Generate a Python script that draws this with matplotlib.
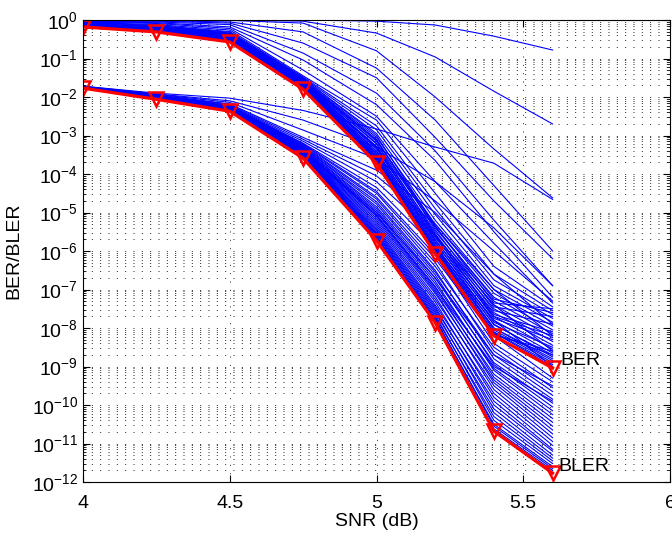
import numpy as np
import matplotlib
matplotlib.use("Agg")
import matplotlib.pyplot as plt
from matplotlib.ticker import LogLocator, NullFormatter, FixedLocator

plt.rcParams['font.family'] = ['Liberation Sans', 'DejaVu Sans']
plt.rcParams['mathtext.fontset'] = 'custom'
plt.rcParams['mathtext.rm'] = 'Liberation Sans'
plt.rcParams['mathtext.it'] = 'Liberation Sans:italic'
plt.rcParams['mathtext.bf'] = 'Liberation Sans:bold'
plt.rcParams['lines.scale_dashes'] = False

# SNR points (dB)
snr = [4, 4.25, 4.5, 4.75, 5, 5.2, 5.4, 5.6]

# red curves, log10 values
ber_red = [-0.18, -0.31, -0.57, -1.80, -3.72, -6.07, -8.20, -9.04]
bler_red = [-1.77, -2.06, -2.37, -3.59, -5.73, -7.86, -10.68, -11.77]

# blue curves of the upper group (log10)
upper_blue = [
    [0.00, 0.00, 0.00, 0.00, -0.03, -0.13, -0.42, -0.78],
    [0.00, 0.00, 0.00, -0.03, -0.34, -0.96, -1.85, -2.70],
    [0.00, 0.00, -0.01, -0.08, -0.80, -2.00, -3.35, -4.62],
    [-0.01, -0.02, -0.05, -0.31, -1.25, -2.60, -4.30, -6.00],
    [-0.02, -0.03, -0.08, -0.60, -1.50, -3.05, -4.70, -6.20],
    [-0.03, -0.05, -0.12, -0.86, -1.90, -3.40, -5.20, -6.90],
    [-0.04, -0.07, -0.18, -1.04, -2.20, -3.65, -5.50, -7.20],
    [-0.05, -0.09, -0.22, -1.30, -2.50, -4.20, -5.80, -7.35],
    [-0.06, -0.12, -0.26, -1.45, -2.60, -4.50, -6.40, -7.45],
    [-0.07, -0.14, -0.30, -1.48, -2.75, -4.75, -6.60, -7.55],
    [-0.08, -0.15, -0.32, -1.50, -2.85, -4.90, -6.75, -7.65],
    [-0.08, -0.16, -0.34, -1.53, -2.95, -5.05, -6.90, -7.75],
    [-0.09, -0.17, -0.36, -1.55, -3.05, -5.20, -7.00, -7.85],
    [-0.10, -0.18, -0.38, -1.58, -3.15, -5.30, -7.10, -7.95],
    [-0.10, -0.19, -0.40, -1.60, -3.20, -5.40, -7.20, -8.05],
    [-0.11, -0.20, -0.42, -1.62, -3.28, -5.50, -7.30, -8.15],
    [-0.12, -0.21, -0.43, -1.64, -3.35, -5.58, -7.40, -8.25],
    [-0.12, -0.22, -0.45, -1.66, -3.42, -5.65, -7.50, -8.35],
    [-0.13, -0.23, -0.47, -1.68, -3.48, -5.72, -7.60, -8.45],
    [-0.14, -0.24, -0.49, -1.70, -3.53, -5.80, -7.70, -8.55],
    [-0.14, -0.25, -0.50, -1.72, -3.58, -5.88, -7.80, -8.65],
    [-0.15, -0.26, -0.52, -1.74, -3.62, -5.95, -7.90, -8.75],
    [-0.16, -0.28, -0.54, -1.76, -3.66, -6.00, -8.00, -8.85],
    [-0.17, -0.29, -0.55, -1.78, -3.70, -6.04, -8.10, -8.95],
    [-0.09, -0.16, -0.35, -1.52, -3.00, -5.35, -7.35, -7.50],
    [-0.10, -0.17, -0.37, -1.56, -3.10, -5.45, -7.45, -7.70],
    [-0.11, -0.19, -0.39, -1.59, -3.22, -5.55, -7.55, -7.90],
    [-0.12, -0.20, -0.41, -1.61, -3.30, -5.62, -7.65, -8.10],
    [-0.13, -0.22, -0.44, -1.65, -3.40, -5.70, -7.75, -8.30],
    [-0.13, -0.23, -0.46, -1.67, -3.46, -5.76, -7.85, -8.50],
    [-0.14, -0.24, -0.48, -1.69, -3.52, -5.84, -7.92, -8.70],
    [-0.15, -0.25, -0.50, -1.71, -3.57, -5.90, -8.00, -8.80],
    [-0.15, -0.26, -0.51, -1.73, -3.61, -5.94, -8.05, -8.90],
    [-0.16, -0.27, -0.53, -1.75, -3.64, -5.98, -8.12, -9.00],
    [-0.16, -0.28, -0.54, -1.77, -3.68, -6.02, -8.15, -8.70],
    [-0.17, -0.29, -0.56, -1.79, -3.70, -6.05, -8.18, -8.60],
    [-0.11, -0.18, -0.40, -1.57, -3.12, -5.36, -7.25, -7.60],
    [-0.12, -0.21, -0.42, -1.63, -3.32, -5.60, -7.70, -8.20],
]

# blue curves of the lower group (log10)
lower_blue = [
    [-1.72, -1.90, -2.03, -2.35, -2.83, -3.30, -3.72, -4.66],
    [-1.72, -1.92, -2.10, -2.60, -3.30, -4.20, -5.40, -6.90],
    [-1.73, -1.93, -2.14, -2.86, -3.60, -4.70, -6.00, -7.30],
    [-1.73, -1.94, -2.18, -3.05, -3.90, -5.00, -6.60, -7.90],
    [-1.73, -1.95, -2.20, -3.10, -4.05, -5.30, -7.00, -8.20],
    [-1.74, -1.96, -2.22, -3.15, -4.20, -5.60, -7.40, -8.60],
    [-1.74, -1.97, -2.23, -3.20, -4.35, -5.90, -7.80, -9.00],
    [-1.74, -1.98, -2.24, -3.24, -4.50, -6.20, -8.20, -9.30],
    [-1.75, -1.99, -2.25, -3.28, -4.65, -6.40, -8.50, -9.55],
    [-1.75, -1.99, -2.26, -3.31, -4.78, -6.55, -8.70, -9.75],
    [-1.75, -2.00, -2.27, -3.34, -4.90, -6.70, -8.90, -9.95],
    [-1.75, -2.01, -2.28, -3.37, -5.00, -6.85, -9.05, -10.15],
    [-1.76, -2.01, -2.29, -3.40, -5.10, -7.00, -9.20, -10.35],
    [-1.76, -2.02, -2.30, -3.43, -5.20, -7.10, -9.35, -10.55],
    [-1.76, -2.03, -2.31, -3.45, -5.30, -7.25, -9.50, -10.75],
    [-1.76, -2.03, -2.32, -3.48, -5.40, -7.40, -9.70, -10.95],
    [-1.77, -2.04, -2.33, -3.50, -5.48, -7.50, -9.90, -11.15],
    [-1.77, -2.04, -2.34, -3.52, -5.55, -7.60, -10.10, -11.30],
    [-1.77, -2.05, -2.35, -3.54, -5.62, -7.70, -10.30, -11.45],
    [-1.77, -2.05, -2.36, -3.56, -5.68, -7.78, -10.50, -11.60],
    [-1.74, -1.97, -2.24, -3.22, -4.45, -6.10, -8.40, -9.40],
    [-1.75, -1.98, -2.25, -3.26, -4.60, -6.30, -8.60, -9.65],
    [-1.75, -1.99, -2.26, -3.30, -4.72, -6.50, -8.80, -9.85],
    [-1.75, -2.00, -2.27, -3.33, -4.85, -6.62, -8.95, -10.05],
    [-1.76, -2.00, -2.28, -3.36, -4.95, -6.78, -9.10, -10.25],
    [-1.76, -2.01, -2.29, -3.39, -5.05, -6.92, -9.28, -10.45],
    [-1.76, -2.02, -2.30, -3.42, -5.15, -7.05, -9.42, -10.65],
    [-1.76, -2.02, -2.31, -3.44, -5.25, -7.18, -9.60, -10.85],
    [-1.77, -2.03, -2.32, -3.47, -5.35, -7.32, -9.80, -11.05],
    [-1.77, -2.04, -2.33, -3.49, -5.44, -7.45, -10.00, -11.20],
    [-1.77, -2.04, -2.34, -3.51, -5.52, -7.55, -10.20, -11.38],
    [-1.77, -2.05, -2.35, -3.53, -5.58, -7.65, -10.40, -11.52],
    [-1.77, -2.05, -2.36, -3.55, -5.65, -7.74, -10.55, -11.65],
    [-1.77, -2.06, -2.36, -3.57, -5.70, -7.82, -10.62, -11.70],
    [-1.76, -2.02, -2.30, -3.40, -5.00, -6.70, -8.70, -9.50],
    [-1.76, -2.01, -2.29, -3.38, -5.08, -6.95, -9.00, -9.90],
]

fig = plt.figure(figsize=(6.72, 5.35), dpi=100)
ax = fig.add_axes([83/672, 1-482/535, 587/672, 462/535])

for c in upper_blue + lower_blue:
    ax.semilogy(snr, 10.0**np.array(c), color='#0000ff', lw=0.8)

for c in [ber_red, bler_red]:
    ax.semilogy(snr, 10.0**np.array(c), color='#ff0000', lw=2.3,
                marker='v', ms=10, mfc='none', mec='#ff0000', mew=1.8)

ax.text(5.625, 10**-8.85, 'BER', fontsize=14, va='center', ha='left')
ax.text(5.62, 10**-11.6, 'BLER', fontsize=14, va='center', ha='left')

ax.set_xlim(4, 6)
ax.set_ylim(1e-12, 1)
ax.xaxis.set_major_locator(FixedLocator([4, 4.5, 5, 5.5, 6]))
ax.set_xticklabels(['4', '4.5', '5', '5.5', '6'])
ax.yaxis.set_major_locator(LogLocator(base=10, numticks=20))
ax.yaxis.set_minor_locator(LogLocator(base=10, subs=np.arange(2, 10), numticks=200))
ax.yaxis.set_minor_formatter(NullFormatter())

dots = (0, (0.7, 5.3))
ax.grid(True, which='major', axis='both', color='k', lw=0.6, linestyle=dots)
ax.grid(True, which='minor', axis='y', color='k', lw=0.6, linestyle=dots)

ax.tick_params(which='both', direction='in', top=True, right=True, labelsize=14)
ax.tick_params(which='major', length=5, width=0.8)
ax.tick_params(which='minor', length=2.5, width=0.6)
ax.tick_params(axis='x', pad=9)

ax.set_xlabel('SNR (dB)', fontsize=14, labelpad=1)
ax.set_ylabel('BER/BLER', fontsize=14, labelpad=7)

fig.savefig('out.png', dpi=100)
